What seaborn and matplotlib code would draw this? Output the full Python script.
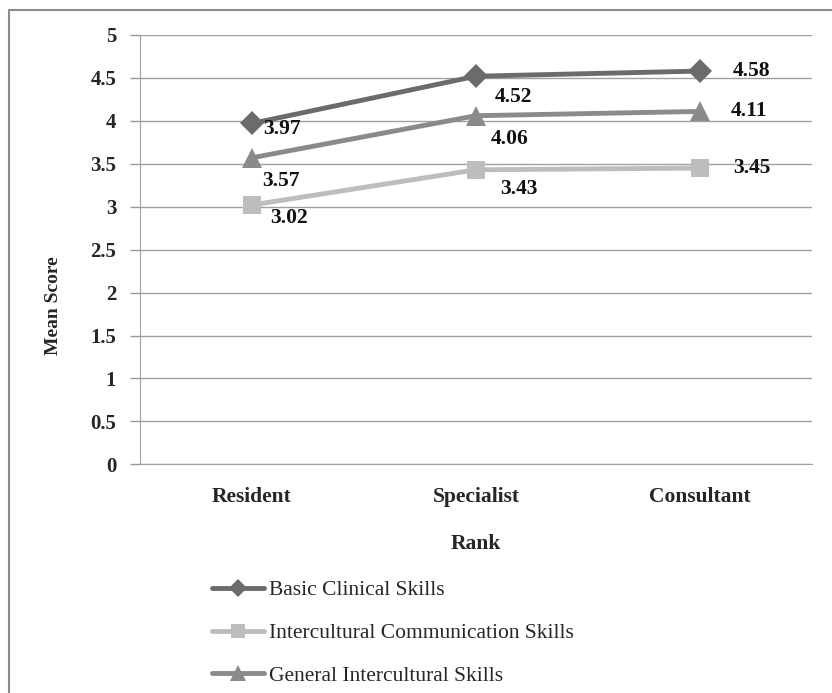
import matplotlib
matplotlib.use("Agg")
import matplotlib.pyplot as plt
import seaborn as sns
import pandas as pd
from matplotlib.lines import Line2D

ranks = ["Resident", "Specialist", "Consultant"]
series_names = ["Basic Clinical Skills", "Intercultural Communication Skills", "General Intercultural Skills"]
basic_clinical = [3.97, 4.52, 4.58]
intercultural_comm = [3.02, 3.43, 3.45]
general_intercultural = [3.57, 4.06, 4.11]
y_ticks = [0, 0.5, 1, 1.5, 2, 2.5, 3, 3.5, 4, 4.5, 5]
y_tick_labels = ["0", "0.5", "1", "1.5", "2", "2.5", "3", "3.5", "4", "4.5", "5"]

sns.set_style("white")
plt.rcParams['font.family'] = ['Liberation Serif', 'DejaVu Serif']

df = pd.DataFrame({
    "Rank": ranks * 3,
    "Score": basic_clinical + intercultural_comm + general_intercultural,
    "Series": [series_names[0]] * 3 + [series_names[1]] * 3 + [series_names[2]] * 3,
})

colors = {series_names[0]: "#6b6b6b", series_names[1]: "#bdbdbd", series_names[2]: "#8a8a8a"}
markers = {series_names[0]: "D", series_names[1]: "s", series_names[2]: "^"}
msizes = {series_names[0]: 12, series_names[1]: 13, series_names[2]: 14}

fig = plt.figure(figsize=(8.32, 6.93), dpi=100)
ax = fig.add_axes([0.168, 0.330, 0.808, 0.6195])

for name in series_names:
    sub = df[df["Series"] == name]
    sns.lineplot(data=sub, x="Rank", y="Score", ax=ax, color=colors[name],
                 linewidth=3.5, marker=markers[name], markersize=msizes[name],
                 markeredgewidth=0, sort=False, legend=False)

ax.set_xlim(-0.5, 2.5)
ax.set_ylim(0, 5)
ax.set_yticks(y_ticks)
ax.set_yticklabels(y_tick_labels, fontsize=15, fontweight="bold")
ax.set_xticks(range(len(ranks)))
ax.set_xticklabels(ranks, fontsize=15.5, fontweight="bold")
ax.tick_params(axis="y", length=7, color="#999999", width=1, pad=10, left=True)
ax.tick_params(axis="x", length=0, pad=16)
ax.yaxis.grid(True, color="#a0a0a0", linewidth=1)
ax.set_axisbelow(True)
for s in ["top", "right"]:
    ax.spines[s].set_visible(False)
ax.spines["left"].set_color("#a0a0a0")
ax.spines["bottom"].set_color("#a0a0a0")
ax.set_xlabel("Rank", fontsize=15.5, fontweight="bold", labelpad=20)
ax.set_ylabel("Mean Score", fontsize=14, fontweight="bold")
ax.yaxis.set_label_coords(-0.116, 0.37)

# data labels (offsets in points from each marker)
off_basic = [(22, -4), (27, -15), (37, 0)]
off_general = [(21, -17), (24, -17), (35, 0)]
off_comm = [(27, -9), (31, -14), (37, 0)]
for vals, offs in [(basic_clinical, off_basic), (general_intercultural, off_general), (intercultural_comm, off_comm)]:
    for i, v in enumerate(vals):
        ax.annotate(f"{v:.2f}", (i, v), xytext=offs[i], textcoords="offset points",
                    ha="center", va="center", fontsize=15.5, fontweight="bold", color="#111111")

handles = [Line2D([0], [0], color=colors[n], marker=markers[n], lw=3.5,
                  markersize=msizes[n] * 0.8, markeredgewidth=0) for n in series_names]
fig.legend(handles, series_names, loc="upper left", bbox_to_anchor=(0.242, 0.178),
           frameon=False, fontsize=15.5, handlelength=2.4, handletextpad=0.25,
           labelspacing=1.05, borderpad=0)

# outer chart border
fig.add_artist(Line2D([0.011, 0.011], [0.0, 0.986], color="#8c8c8c", lw=1.5, transform=fig.transFigure))
fig.add_artist(Line2D([0.011, 1.0], [0.986, 0.986], color="#8c8c8c", lw=1.5, transform=fig.transFigure))

fig.savefig("out.png", dpi=100)
